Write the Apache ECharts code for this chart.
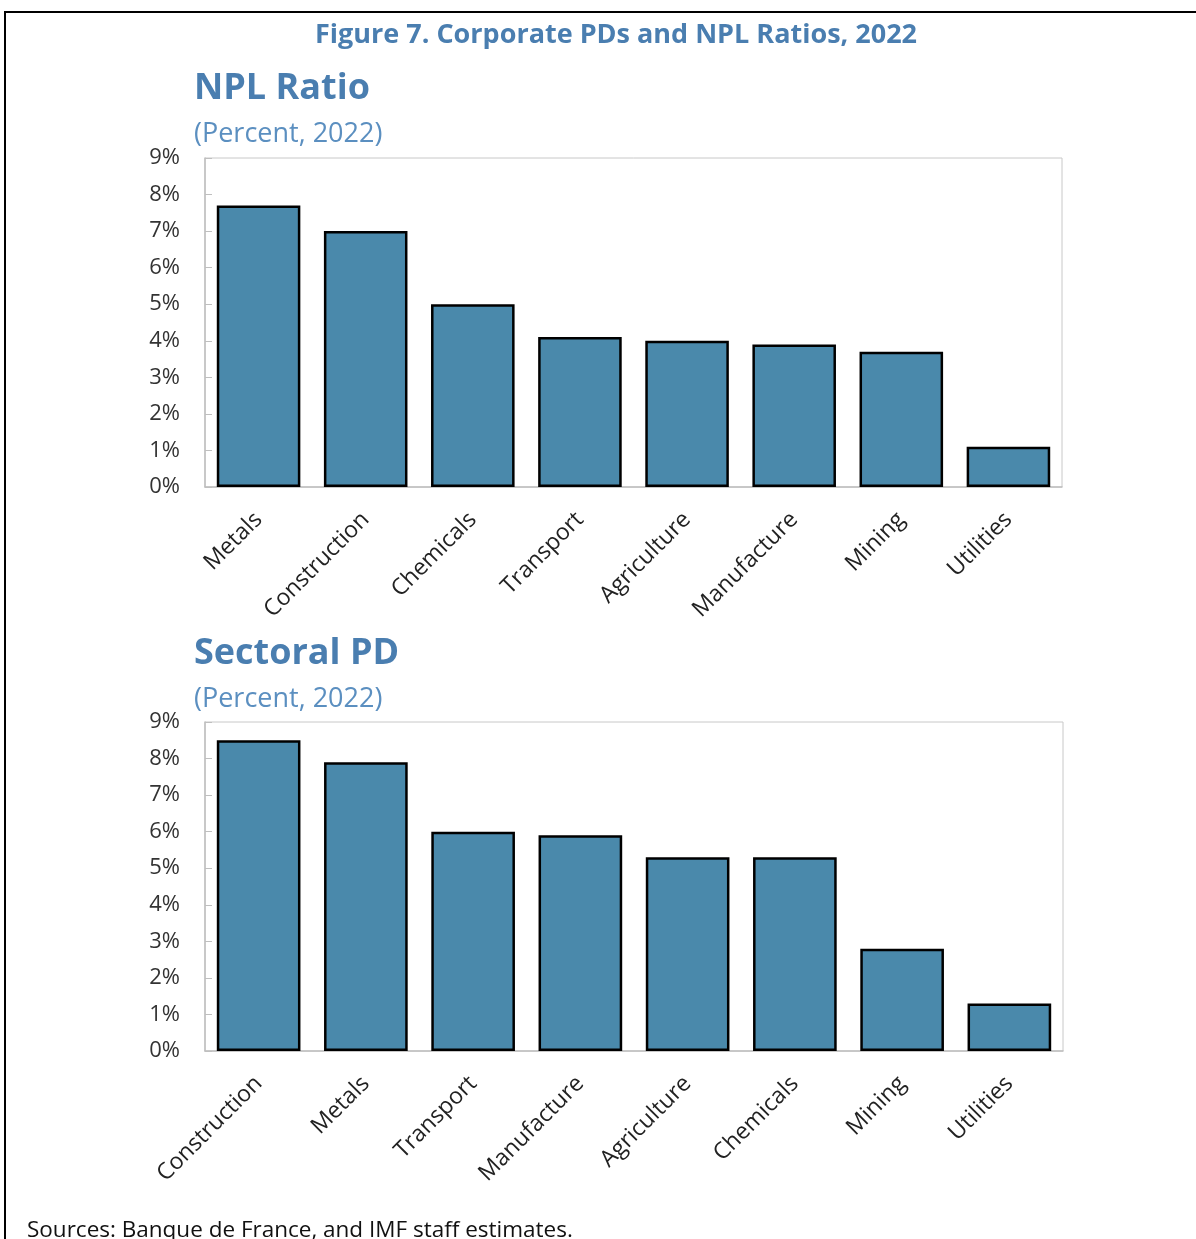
<!DOCTYPE html>
<html>
<head>
<meta charset="utf-8">
<script src="https://cdn.jsdelivr.net/npm/echarts@6/dist/echarts.min.js"></script>
<style>
  html, body { margin: 0; padding: 0; background: #fff; }
  #chart { width: 1196px; height: 1239px; }
</style>
</head>
<body>
<div id="chart"></div>
<script>
const nplSectors = ['Metals', 'Construction', 'Chemicals', 'Transport', 'Agriculture', 'Manufacture', 'Mining', 'Utilities']
const nplValues = [7.7, 7.0, 5.0, 4.1, 4.0, 3.9, 3.7, 1.1]
const pdSectors = ['Construction', 'Metals', 'Transport', 'Manufacture', 'Agriculture', 'Chemicals', 'Mining', 'Utilities']
const pdValues = [8.5, 7.9, 6.0, 5.9, 5.3, 5.3, 2.8, 1.3]

const blue = '#4a7eb0'
const barColor = '#4a89ab'
const font = '"Open Sans", sans-serif'

const chart = echarts.init(document.getElementById('chart'))

function xAxisFor(idx, data) {
  return {
    type: 'category',
    gridIndex: idx,
    data: data,
    axisLine: { lineStyle: { color: '#bfbfbf', width: 1.5 } },
    axisTick: { inside: true, length: 6, lineStyle: { color: '#bfbfbf' } },
    axisLabel: {
      rotate: 45,
      fontSize: 23,
      fontFamily: font,
      color: '#222',
      margin: 29,
      interval: 0
    }
  }
}

function yAxisFor(idx) {
  return {
    type: 'value',
    gridIndex: idx,
    min: 0,
    max: 9,
    interval: 1,
    axisLine: { show: true, lineStyle: { color: '#bfbfbf', width: 1.5 } },
    axisTick: { show: true, inside: true, length: 7, lineStyle: { color: '#bfbfbf' } },
    splitLine: { show: false },
    axisLabel: {
      formatter: '{value}%',
      fontSize: 22,
      fontFamily: font,
      color: '#333',
      margin: 25
    }
  }
}

function barSeries(idx, values) {
  return {
    type: 'bar',
    xAxisIndex: idx,
    yAxisIndex: idx,
    data: values,
    barWidth: '78%',
    itemStyle: { color: barColor, borderColor: '#000', borderWidth: 2.5 }
  }
}

const option = {
  animation: false,
  title: [
    {
      text: 'Figure 7. Corporate PDs and NPL Ratios, 2022',
      left: 611, top: 17, textAlign: 'center',
      textStyle: { fontFamily: font, fontSize: 27, fontWeight: 'bold', color: blue }
    },
    {
      text: 'NPL Ratio', left: 189, top: 66,
      textStyle: { fontFamily: font, fontSize: 36, fontWeight: 'bold', color: blue }
    },
    {
      text: '(Percent, 2022)', left: 189, top: 116,
      textStyle: { fontFamily: font, fontSize: 27, fontWeight: 'normal', color: '#5b8fc0' }
    },
    {
      text: 'Sectoral PD', left: 189, top: 631,
      textStyle: { fontFamily: font, fontSize: 36, fontWeight: 'bold', color: blue }
    },
    {
      text: '(Percent, 2022)', left: 189, top: 681,
      textStyle: { fontFamily: font, fontSize: 27, fontWeight: 'normal', color: '#5b8fc0' }
    },
    {
      text: 'Sources: Banque de France, and IMF staff estimates.', left: 22, top: 1214,
      textStyle: { fontFamily: font, fontSize: 22.5, fontWeight: 'normal', color: '#111' }
    }
  ],
  graphic: [
    {
      type: 'rect',
      shape: { x: 5, y: 12, width: 1300, height: 1400 },
      style: { fill: 'none', stroke: '#000', lineWidth: 2 },
      silent: true
    }
  ],
  grid: [
    { left: 205, top: 158, width: 857, height: 329, show: true, borderColor: '#c8c8c8', borderWidth: 1 },
    { left: 205, top: 722, width: 858, height: 329, show: true, borderColor: '#c8c8c8', borderWidth: 1 }
  ],
  xAxis: [xAxisFor(0, nplSectors), xAxisFor(1, pdSectors)],
  yAxis: [yAxisFor(0), yAxisFor(1)],
  series: [barSeries(0, nplValues), barSeries(1, pdValues)]
}

chart.setOption(option)
</script>
</body>
</html>
